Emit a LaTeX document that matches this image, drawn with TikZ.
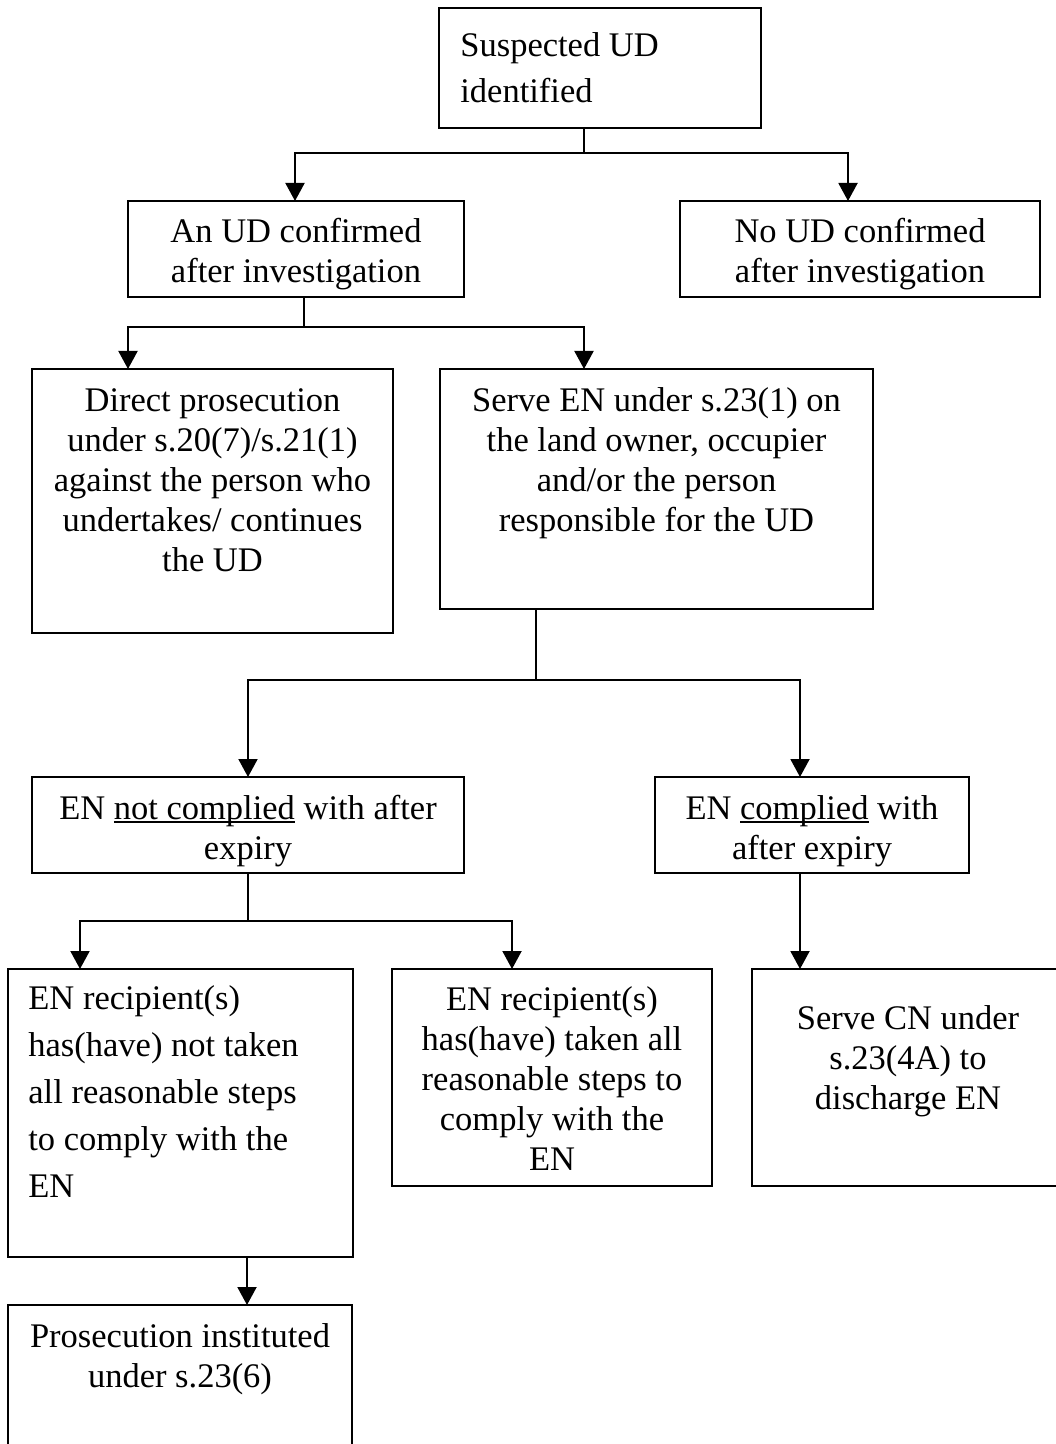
\documentclass[tikz,border=0pt]{standalone}
\usepackage{fontspec}
\setmainfont{Liberation Serif}
\usetikzlibrary{arrows.meta}
\newcommand\fst{\rule{0pt}{14pt}}
\newcommand\myul[1]{\setbox0=\hbox{#1}\leavevmode\rlap{\rule[-1.6pt]{\wd0}{0.8pt}}\box0\relax}
\begin{document}
\begin{tikzpicture}[x=0.5pt,y=-0.5pt,
  box/.style={draw, line width=1pt, inner sep=0pt, outer sep=0pt, anchor=north west},
  txt/.style={inner sep=0pt, align=center, anchor=north, font=\fontsize{17.25}{20}\selectfont},
  ltxt/.style={inner sep=0pt, align=left, anchor=north west},
  arr/.style={line width=1pt, -{Triangle[length=9pt,width=9.5pt]}},
  ln/.style={line width=1pt}]
\useasboundingbox (0,0) rectangle (1055,1444);

% boxes
\node[box, minimum width=161pt, minimum height=60pt] (b1) at (439,8) {};
\node[box, minimum width=168pt, minimum height=48pt] (b2) at (128,201) {};
\node[box, minimum width=180pt, minimum height=48pt] (nud) at (680,201) {};
\node[box, minimum width=180.5pt, minimum height=132pt] (b3) at (32,369) {};
\node[box, minimum width=216.5pt, minimum height=120pt] (b4) at (440,369) {};
\node[box, minimum width=216pt, minimum height=48pt] (nc) at (32,777) {};
\node[box, minimum width=157pt, minimum height=48pt] (cp) at (655,777) {};
\node[box, minimum width=172.5pt, minimum height=144pt] (lb) at (8,969) {};
\node[box, minimum width=160pt, minimum height=108.5pt] (mb) at (392,969) {};
\node[box, minimum width=170pt, minimum height=108.5pt] (cn) at (752,969) {};
\node[box, minimum width=172pt, minimum height=82.5pt] (pb) at (8,1305) {};

% texts
\node[ltxt, font=\fontsize{17.25}{23}\selectfont] (t1) at (460,28) {\fst Suspected UD\\identified};
\node[txt] (t2) at (296,214) {\fst An UD confirmed\\after investigation};
\node[txt] (t3) at (860,214) {\fst No UD confirmed\\after investigation};
\node[txt] (t4) at (212.5,383) {\fst Direct prosecution\\under s.20(7)/s.21(1)\\against the person who\\undertakes/ continues\\the UD};
\node[txt] (t5) at (656.5,383) {\fst Serve EN under s.23(1) on\\the land owner, occupier\\and/or the person\\responsible for the UD};
\node[txt] (t6) at (248,791) {\fst EN \myul{not complied} with after\\expiry};
\node[txt] (t7) at (812,791) {\fst EN \myul{complied} with\\after expiry};
\node[ltxt, font=\fontsize{17.25}{23.5}\selectfont] (t8) at (28,981) {\fst EN recipient(s)\\has(have) not taken\\all reasonable steps\\to comply with the\\EN};
\node[txt] (t9) at (552,982) {\fst EN recipient(s)\\has(have) taken all\\reasonable steps to\\comply with the\\EN};
\node[txt] (t10) at (908,1001) {\fst Serve CN under\\s.23(4A) to\\discharge EN};
\node[txt] (t11) at (180,1319) {\fst Prosecution instituted\\under s.23(6)};

% junction coordinates
\coordinate (j1) at (584,153);
\coordinate (a1l) at (295,153);
\coordinate (a1r) at (848,153);
\coordinate (j2) at (304,327);
\coordinate (a2l) at (128,327);
\coordinate (a2r) at (584,327);
\coordinate (j3) at (536,680);
\coordinate (a3l) at (248,680);
\coordinate (a3r) at (800,680);
\coordinate (j4) at (248,921);
\coordinate (a4l) at (80,921);
\coordinate (a4r) at (512,921);
\coordinate (a5) at (800,900);
\coordinate (a6) at (247,1280);

% connectors
\draw[arr] (b1.south -| j1) -- (j1) -| (b2.north -| a1l);
\draw[arr] (j1) -| (nud.north -| a1r);
\draw[arr] (b2.south -| j2) -- (j2) -| (b3.north -| a2l);
\draw[arr] (j2) -| (b4.north -| a2r);
\draw[arr] (b4.south -| j3) -- (j3) -| (nc.north -| a3l);
\draw[arr] (j3) -| (cp.north -| a3r);
\draw[arr] (nc.south -| j4) -- (j4) -| (lb.north -| a4l);
\draw[arr] (j4) -| (mb.north -| a4r);
\draw[arr] (cp.south -| a5) -- (cn.north -| a5);
\draw[arr] (lb.south -| a6) -- (pb.north -| a6);
\end{tikzpicture}
\end{document}
